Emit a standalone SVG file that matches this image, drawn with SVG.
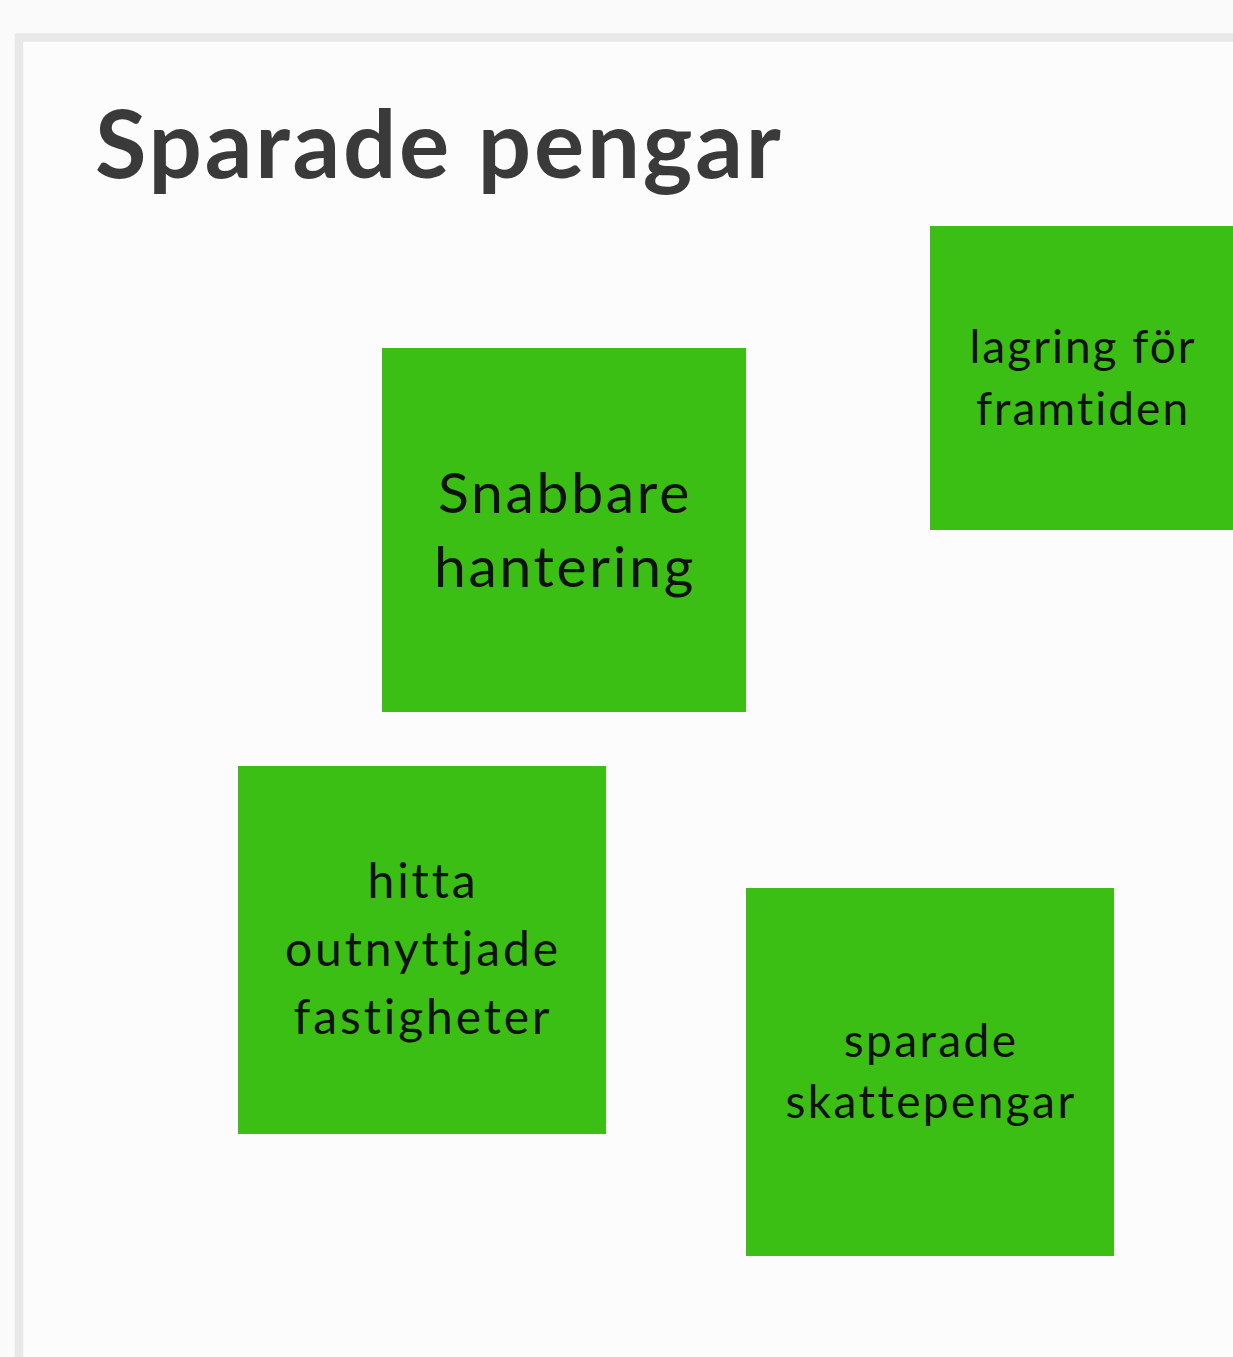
<svg xmlns="http://www.w3.org/2000/svg" width="1233" height="1357" viewBox="0 0 1233 1357">
<style>
.note{fill:#3cbf14}
.nt{font-family:Lato,"Liberation Sans",sans-serif;fill:#111;text-anchor:middle;font-variant-ligatures:none}
.title{font-family:Lato,"Liberation Sans",sans-serif;font-weight:700;fill:#3a3a3a;font-variant-ligatures:none;letter-spacing:2.8px}
</style>
<rect x="0" y="0" width="1233" height="1357" fill="#fafafa"/>
<g id="frame">
<rect x="19" y="37.5" width="1300" height="1400" fill="#fcfcfc" stroke="#e8e8e8" stroke-width="8.5"/>
<text class="title" x="95" y="178" font-size="94">Sparade pengar</text>
</g>
<g id="connectors"></g>
<g id="node-snabbare">
<rect class="note" x="382" y="348" width="364" height="364"/>
<text class="nt" font-size="57" letter-spacing="2.7"><tspan x="565" y="513">Snabbare</tspan><tspan x="565" y="587">hantering</tspan></text>
</g>
<g id="node-lagring">
<rect class="note" x="930" y="226" width="304" height="304"/>
<text class="nt" font-size="46" letter-spacing="2"><tspan x="1083" y="363">lagring för</tspan><tspan x="1083" y="425">framtiden</tspan></text>
</g>
<g id="node-hitta">
<rect class="note" x="238" y="766" width="368" height="368"/>
<text class="nt" font-size="48" letter-spacing="2.9"><tspan x="423" y="898">hitta</tspan><tspan x="423" y="966">outnyttjade</tspan><tspan x="423" y="1034">fastigheter</tspan></text>
</g>
<g id="node-sparade">
<rect class="note" x="746" y="888" width="368" height="368"/>
<text class="nt" font-size="46" letter-spacing="2.4"><tspan x="931" y="1057">sparade</tspan><tspan x="931" y="1118">skattepengar</tspan></text>
</g>
</svg>
